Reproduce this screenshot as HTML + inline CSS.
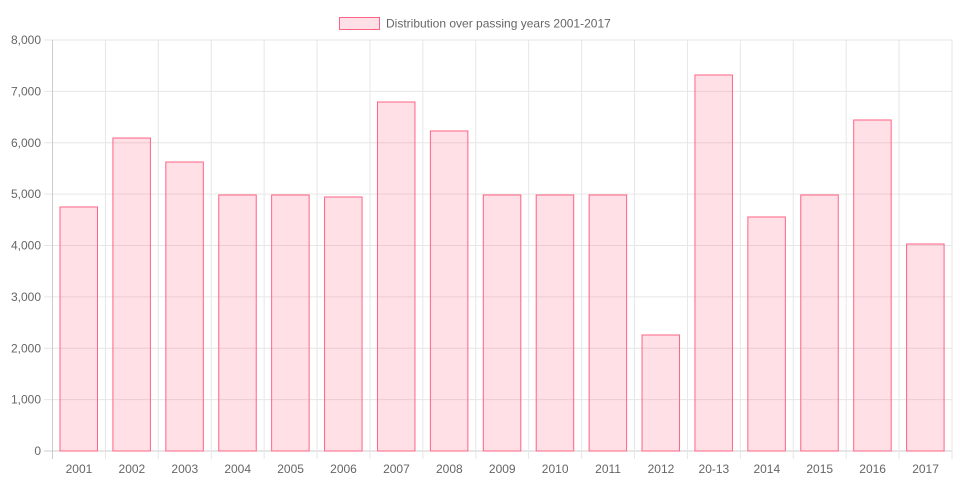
<!DOCTYPE html>
<html><head><meta charset="utf-8"><style>
html,body{margin:0;padding:0;background:#fff;}
svg{display:block;font-family:"Liberation Sans",sans-serif;}
</style></head><body>
<svg width="960" height="500" viewBox="0 0 960 500" id="c"></svg>
<script>
const s=document.getElementById('c');
const L=52.5,R=952,T=40,B=451,n=17,w=(R-L)/n;
const vals=[4750,6092,5625,4983,4983,4944,6793,6229,4983,4983,4983,2258,7319,4555,4983,6443,4029];
const labs=['2001','2002','2003','2004','2005','2006','2007','2008','2009','2010','2011','2012','20-13','2014','2015','2016','2017'];
let h='';
h+='<rect x="339.5" y="17.5" width="40" height="12" fill="rgba(255,99,132,0.2)" stroke="rgb(255,99,132)" stroke-width="1"/>';
h+='<text x="386" y="27.5" font-size="12" fill="#666">Distribution over passing years 2001-2017</text>';
for(let i=0;i<=8;i++){const y=B-(B-T)*i/8;h+=`<line x1="44" x2="${R}" y1="${y}" y2="${y}" stroke="${i==0?'#ccc':'#e6e6e6'}"/>`;
h+=`<text x="41" y="${y+4}" font-size="12" fill="#666" text-anchor="end">${i==0?'0':i+',000'}</text>`;}
for(let i=0;i<=n;i++){const x=L+w*i;h+=`<line x1="${x}" x2="${x}" y1="${T}" y2="459" stroke="${i==0?'#ccc':'#e6e6e6'}"/>`;}
vals.forEach((v,i)=>{const x=L+w*i+7.5,y=B-(B-T)*v/8000;
h+=`<rect x="${x}" y="${y}" width="37.5" height="${B-y}" fill="rgba(255,99,132,0.2)" stroke="rgb(255,99,132)" stroke-width="1"/>`;
h+=`<text x="${L+w*i+w/2}" y="473" font-size="12" fill="#666" text-anchor="middle">${labs[i]}</text>`;});
s.innerHTML=h;
</script>
</body></html>
